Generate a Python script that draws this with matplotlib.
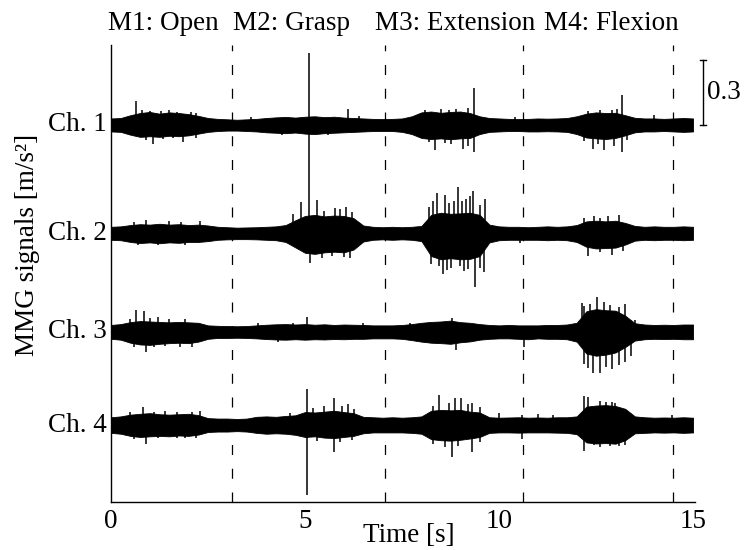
import numpy as np
import matplotlib
matplotlib.use("Agg")
import matplotlib.pyplot as plt
from matplotlib.transforms import blended_transform_factory

plt.rcParams['font.family'] = ['Liberation Serif', 'DejaVu Serif']

# --- data ---
# envelope of each channel, sampled every 0.25 s (0..15 s), half-widths in mm/s^2
t_env = np.linspace(0, 15, 61)

ch1_up = [30, 32, 45, 55, 60, 52, 58, 55, 50, 42,
          32, 28, 26, 24, 26, 28, 32, 35, 37, 34,
          38, 40, 36, 38, 34, 32, 30, 28, 27, 28,
          30, 40, 58, 62, 56, 60, 62, 55, 40, 32,
          30, 28, 27, 28, 30, 29, 30, 32, 40, 52,
          58, 55, 56, 45, 33, 30, 30, 28, 30, 32, 30]
ch1_dn = [30, 32, 45, 55, 52, 55, 50, 52, 48, 40,
          32, 28, 26, 26, 28, 30, 34, 36, 38, 35,
          40, 42, 38, 36, 34, 32, 30, 28, 28, 28,
          32, 42, 60, 65, 62, 66, 62, 60, 42, 32,
          30, 28, 28, 30, 30, 29, 30, 32, 42, 58,
          62, 65, 60, 48, 34, 30, 30, 28, 30, 32, 30]

ch2_up = [30, 32, 38, 42, 40, 44, 40, 42, 38, 40,
          36, 30, 28, 26, 27, 28, 30, 32, 38, 60,
          80, 85, 78, 82, 80, 70, 36, 30, 28, 30,
          28, 30, 34, 85, 95, 90, 92, 95, 85, 40,
          32, 30, 30, 28, 30, 32, 30, 32, 38, 55,
          58, 55, 58, 48, 34, 30, 32, 30, 30, 32, 30]
ch2_dn = [30, 32, 40, 45, 42, 46, 42, 44, 40, 40,
          36, 30, 28, 27, 27, 28, 30, 32, 40, 65,
          90, 95, 88, 85, 88, 75, 38, 30, 28, 30,
          28, 30, 36, 105, 120, 115, 120, 118, 105, 42,
          32, 30, 30, 30, 30, 32, 30, 32, 40, 62,
          70, 68, 66, 52, 34, 30, 32, 30, 30, 32, 30]

ch3_up = [32, 36, 45, 50, 48, 46, 44, 46, 44, 42,
          30, 28, 27, 26, 27, 30, 33, 35, 36, 34,
          36, 33, 35, 32, 34, 33, 32, 30, 30, 30,
          32, 36, 42, 46, 48, 52, 45, 42, 36, 32,
          30, 32, 30, 30, 30, 32, 32, 34, 42, 95,
          105, 100, 98, 75, 40, 34, 32, 33, 32, 34, 34]
ch3_dn = [32, 36, 50, 58, 60, 55, 52, 50, 52, 45,
          32, 28, 28, 27, 28, 30, 33, 35, 36, 34,
          36, 34, 35, 33, 34, 32, 32, 30, 30, 30,
          32, 38, 45, 50, 52, 55, 48, 44, 36, 32,
          30, 30, 32, 34, 30, 32, 32, 34, 45, 100,
          110, 105, 95, 70, 40, 34, 32, 33, 32, 34, 34]

ch4_up = [36, 40, 48, 52, 55, 50, 48, 50, 52, 46,
          32, 30, 30, 28, 30, 38, 40, 38, 42, 45,
          60, 58, 62, 66, 60, 55, 38, 36, 34, 36,
          34, 36, 40, 66, 70, 68, 70, 62, 58, 36,
          34, 35, 36, 34, 35, 34, 36, 36, 40, 85,
          90, 92, 88, 75, 40, 36, 34, 35, 34, 36, 34]
ch4_dn = [36, 40, 50, 55, 52, 50, 52, 48, 50, 44,
          32, 30, 30, 28, 30, 36, 40, 38, 40, 45,
          55, 52, 58, 60, 55, 50, 38, 34, 34, 34,
          34, 36, 40, 65, 70, 72, 68, 62, 55, 36,
          34, 34, 35, 34, 34, 34, 35, 36, 42, 80,
          85, 83, 86, 70, 38, 36, 34, 35, 34, 36, 34]

# single spikes: time [s] and peak above / below the trace [mm/s^2]
ch1_hi_t = [0.65, 0.8, 1.0, 1.3, 1.5, 1.7, 2.05, 2.2, 3.6, 5.1, 6.1, 6.4, 8.1, 8.5, 8.7,
            8.9, 9.2, 9.35, 10.4, 12.3, 12.6, 12.9, 13.05, 13.18, 14.0]
ch1_hi_v = [110, 70, 65, 65, 68, 60, 62, 55, 36, 330, 75, 42, 70, 72, 68,
            75, 80, 170, 35, 65, 70, 70, 72, 140, 45]
ch1_lo_t = [0.9, 1.07, 1.35, 1.6, 1.85, 2.2, 4.4, 5.1, 5.6, 8.2, 8.35, 8.6, 8.75, 9.07,
            9.2, 9.35, 12.2, 12.43, 12.55, 12.7, 12.95, 13.18, 13.3]
ch1_lo_v = [70, 88, 65, 62, 80, 62, 45, 500, 48, 80, 115, 85, 90, 110,
            95, 125, 75, 110, 90, 115, 95, 125, 70]

ch2_hi_t = [0.6, 0.9, 1.5, 1.8, 2.3, 4.7, 4.9, 5.3, 5.5, 5.76, 5.9, 6.05, 6.2,
            8.2, 8.3, 8.4, 8.6, 8.7, 8.85, 8.95, 9.05, 9.15, 9.25, 9.33, 9.5, 9.64,
            12.2, 12.45, 12.6, 12.8, 13.1]
ch2_hi_v = [50, 60, 55, 52, 55, 90, 143, 152, 105, 115, 110, 120, 97,
            120, 150, 185, 175, 140, 150, 215, 150, 160, 170, 195, 130, 160,
            70, 80, 72, 78, 85]
ch2_lo_t = [0.7, 1.2, 1.9, 5.12, 5.45, 5.7, 6.0, 6.15, 8.25, 8.45, 8.55, 8.65, 8.75,
            9.0, 9.1, 9.2, 9.38, 9.5, 9.6, 10.55, 12.3, 12.6, 12.9, 13.2]
ch2_lo_v = [55, 55, 52, 138, 112, 105, 110, 115, 140, 150, 190, 170, 160,
            150, 175, 165, 250, 160, 180, 45, 105, 85, 100, 80]

ch3_hi_t = [0.5, 0.65, 0.85, 1.0, 1.2, 1.5, 1.9, 3.8, 4.7, 5.05, 6.5, 7.7, 8.8,
            12.15, 12.2, 12.35, 12.53, 12.7, 12.85, 13.1, 13.25, 13.5]
ch3_hi_v = [60, 100, 95, 62, 70, 58, 60, 40, 42, 70, 40, 42, 65,
            135, 120, 130, 160, 140, 125, 115, 130, 55]
ch3_lo_t = [0.6, 0.9, 1.1, 1.4, 1.78, 2.1, 4.3, 8.9, 10.64, 12.2, 12.3, 12.43, 12.6,
            12.75, 12.9, 13.1, 13.25, 13.4]
ch3_lo_v = [70, 92, 72, 65, 70, 70, 45, 83, 70, 150, 165, 190, 190,
            160, 170, 152, 140, 110]

ch4_hi_t = [0.5, 0.83, 1.1, 1.4, 1.7, 2.1, 2.3, 4.6, 5.05, 5.2, 5.5, 5.75, 5.95, 6.1, 6.25,
            8.3, 8.45, 8.7, 8.86, 9.03, 9.2, 9.3, 9.5, 10.0, 10.6, 11.0, 11.4,
            12.2, 12.3, 12.6, 12.75, 12.9, 13.0, 14.45]
ch4_hi_v = [60, 83, 62, 65, 60, 62, 65, 55, 166, 80, 90, 125, 88, 95, 75,
            90, 138, 100, 125, 125, 95, 100, 85, 55, 45, 50, 45,
            135, 130, 110, 105, 105, 100, 45]
ch4_lo_t = [0.6, 0.9, 1.2, 1.7, 1.9, 2.2, 5.05, 5.3, 5.75, 5.9, 6.2,
            8.3, 8.6, 8.8, 8.95, 9.3, 9.5, 10.6, 12.2, 12.45, 12.6, 12.85, 13.1, 13.25]
ch4_lo_v = [65, 88, 62, 60, 60, 62, 323, 72, 125, 78, 70,
            88, 100, 148, 95, 125, 80, 65, 120, 90, 100, 95, 95, 90]

channels = ["Ch. 1", "Ch. 2", "Ch. 3", "Ch. 4"]
movements = ["M1: Open", "M2: Grasp", "M3: Extension", "M4: Flexion"]
boundaries = [3.13, 7.05, 10.62, 14.47]

# --- layout ---
ch_offset = [1.74, 1.24, 0.785, 0.355]   # vertical position of each trace [m/s^2]
title_x = [1.34, 4.65, 8.86, 12.9]
FS = 19.5

envs = [(ch1_up, ch1_dn), (ch2_up, ch2_dn), (ch3_up, ch3_dn), (ch4_up, ch4_dn)]
spikes = [(ch1_hi_t, ch1_hi_v, ch1_lo_t, ch1_lo_v),
          (ch2_hi_t, ch2_hi_v, ch2_lo_t, ch2_lo_v),
          (ch3_hi_t, ch3_hi_v, ch3_lo_t, ch3_lo_v),
          (ch4_hi_t, ch4_hi_v, ch4_lo_t, ch4_lo_v)]

fig = plt.figure(figsize=(7.5, 5.5), dpi=100)
ax = fig.add_axes([0.148, 0.0873, 0.7787, 0.8309])

for off, (up, dn), (ht, hv, lt, lv) in zip(ch_offset, envs, spikes):
    up = np.array(up) / 1000.0
    dn = np.array(dn) / 1000.0
    ax.fill_between(t_env, off - dn, off + up, color='black', lw=0.6, edgecolor='black')
    # spikes above and below the trace
    ax.vlines(ht, off, off + np.array(hv) / 1000.0, color='black', lw=1.1)
    ax.vlines(lt, off - np.array(lv) / 1000.0, off, color='black', lw=1.1)

# movement boundaries
for b in boundaries:
    ax.axvline(b, color='black', lw=0.9, dashes=(8, 11))

ax.set_xlim(0, 15.05)
ax.set_ylim(0, 2.109)

for s in ['top', 'right']:
    ax.spines[s].set_visible(False)
for s in ['left', 'bottom']:
    ax.spines[s].set_linewidth(1.0)

ax.set_xticks([0, 5, 10, 15])
ax.set_yticks([])
ax.tick_params(axis='x', length=0, pad=5, labelsize=FS)

# channel names at the left of the traces
for name, off in zip(channels, ch_offset):
    ax.annotate(name, xy=(0, off), xycoords=('axes fraction', 'data'),
                xytext=(-3, 0), textcoords='offset points',
                ha='right', va='center', fontsize=FS)

# movement names above the plot
trans = blended_transform_factory(ax.transData, ax.transAxes)
for name, x in zip(movements, title_x):
    ax.text(x, 1.046, name, transform=trans, ha='center', va='center', fontsize=FS)

# scale bar 0.3 m/s^2
sb_x = 15.25
ax.plot([sb_x, sb_x], [ch_offset[0], ch_offset[0] + 0.3], color='black', lw=1.0, clip_on=False)
ax.plot([sb_x - 0.07, sb_x + 0.07], [ch_offset[0], ch_offset[0]], color='black', lw=1.0, clip_on=False)
ax.plot([sb_x - 0.07, sb_x + 0.07], [ch_offset[0] + 0.3] * 2, color='black', lw=1.0, clip_on=False)
ax.text(sb_x + 0.12, ch_offset[0] + 0.15, "0.3", ha='left', va='center', fontsize=FS)

fig.text(409 / 750, 1 - 535 / 550, "Time [s]", ha='center', va='center', fontsize=FS)
fig.text(28 / 750, 1 - 245 / 550, "MMG signals [m/s²]", ha='center', va='center',
         rotation=90, fontsize=FS)

fig.savefig("out.png", dpi=100)
